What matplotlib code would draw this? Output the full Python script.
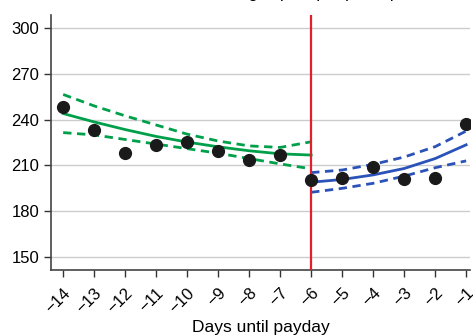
import matplotlib
matplotlib.use("Agg")
import matplotlib.pyplot as plt

plt.rcParams['font.family'] = ['Liberation Sans', 'DejaVu Sans']

days = [-14, -13, -12, -11, -10, -9, -8, -7, -6, -5, -4, -3, -2, -1]
fees = [248.5, 233.2, 218.0, 223.4, 225.5, 219.6, 213.6, 217.0, 200.5, 201.6, 209.2, 201.1, 202.0, 237.1]

days_before = [-14, -13, -12, -11, -10, -9, -8, -7, -6]
fit_before = [244.0, 238.5, 233.5, 229.0, 225.3, 222.2, 219.6, 217.6, 216.8]
upper_before = [256.5, 249.0, 242.5, 236.5, 230.5, 226.0, 222.8, 221.8, 225.5]
lower_before = [231.5, 230.0, 227.0, 224.0, 221.0, 218.0, 214.5, 211.0, 207.8]

days_after = [-6, -5, -4, -3, -2, -1]
fit_after = [199.0, 200.8, 203.8, 208.0, 214.5, 223.5]
upper_after = [205.3, 207.0, 210.7, 215.5, 222.3, 232.5]
lower_after = [192.4, 195.0, 198.3, 203.0, 208.5, 213.0]

tick_labels = ['−%d' % abs(d) for d in days]

green = '#00a04b'
blue = '#2a52b8'
red = '#e2202c'

fig = plt.figure(figsize=(4.73, 3.35), dpi=100)
ax = fig.add_axes([0.108, 0.194, 0.886, 0.761])

ax.plot(days_before, fit_before, color=green, lw=2)
ax.plot(days_before, upper_before, color=green, lw=2, ls=(0, (3, 2)))
ax.plot(days_before, lower_before, color=green, lw=2, ls=(0, (3, 2)))
ax.plot(days_after, fit_after, color=blue, lw=2)
ax.plot(days_after, upper_after, color=blue, lw=2, ls=(0, (3, 2)))
ax.plot(days_after, lower_after, color=blue, lw=2, ls=(0, (3, 2)))
ax.axvline(-6, color=red, lw=1.6, zorder=3)
ax.plot(days, fees, 'o', color='#1a1a1a', ms=8.5, zorder=4)

ax.set_xlim(-14.39, -0.87)
ax.set_ylim(141.5, 308.5)
ax.set_yticks([150, 180, 210, 240, 270, 300])
ax.set_xticks(days)
ax.set_xticklabels(tick_labels, rotation=45, ha='right', rotation_mode='anchor')
ax.tick_params(labelsize=12, length=5, color='#333333', width=1)
ax.tick_params(axis='x', pad=6)
ax.yaxis.grid(True, color='#cccccc', lw=1)
ax.set_axisbelow(True)
for s in ['top', 'right']:
    ax.spines[s].set_visible(False)
for s in ['left', 'bottom']:
    ax.spines[s].set_color('#444444')
    ax.spines[s].set_linewidth(1.2)
ax.set_xlabel('Days until payday', fontsize=12.5, labelpad=3)

# title sits mostly above the top edge, as in the cropped source
fig.text(0.5, 1 + 2.5 / 335, 'Panel A: Total late fee charges paid per participant',
         ha='center', va='baseline', fontsize=12)

fig.savefig('out.png', dpi=100)
